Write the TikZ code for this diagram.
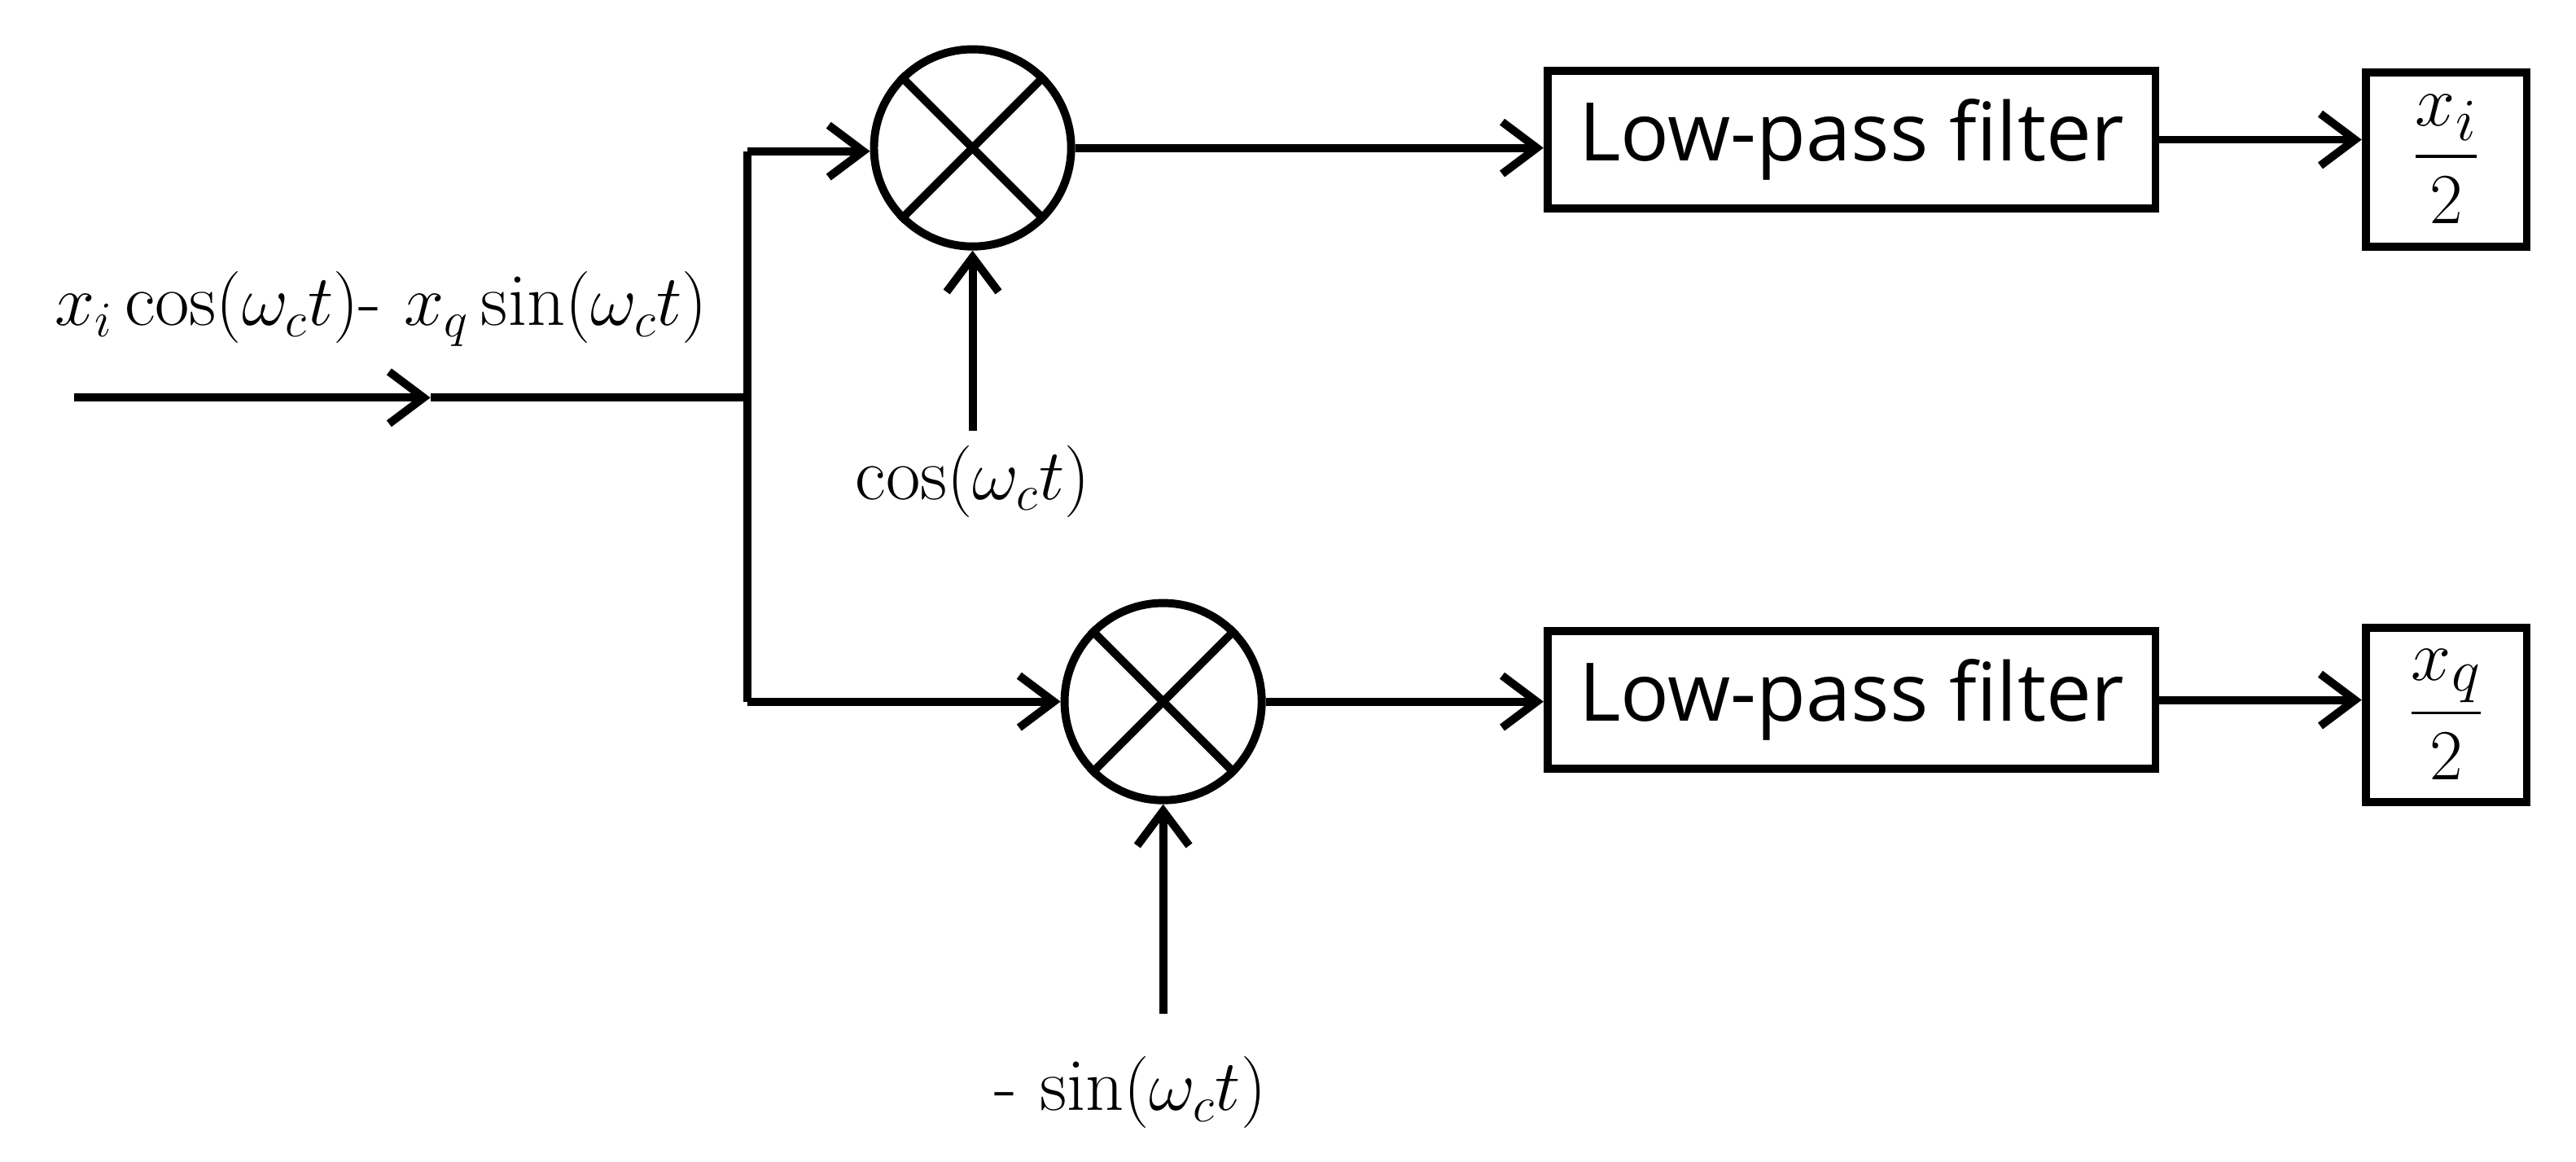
\documentclass[tikz,border=0pt]{standalone}
\usepackage{amsmath}
\usepackage{fontspec}
\setsansfont{Open Sans}
\usetikzlibrary{arrows.meta}
\begin{document}
\begin{tikzpicture}[x=0.02cm,y=-0.02cm,line width=2.8pt,
  arr/.style={-{Straight Barb[length=12pt,width=18pt,line width=2.8pt]}},
  box/.style={draw,font=\sffamily\fontsize{28}{34}\selectfont,minimum width=370*0.02cm,minimum height=84*0.02cm},
  obox/.style={draw,minimum width=98*0.02cm,minimum height=106*0.02cm,font=\fontsize{30}{36}\selectfont},
  lab/.style={font=\fontsize{26}{32}\selectfont}]
\useasboundingbox (0,0) rectangle (1568,707);
\node[circle,draw,minimum size=120*0.02cm,inner sep=0pt] (m1) at (592,90) {};
\node[circle,draw,minimum size=120*0.02cm,inner sep=0pt] (m2) at (708,427) {};
\foreach \m in {m1,m2}{
  \draw (\m.45) -- (\m.225); \draw (\m.135) -- (\m.315);}
\node[box] (l1) at (1127,85) {Low-pass filter};
\node[box] (l2) at (1127,426) {Low-pass filter};
\node[obox] (o1) at (1489,97) {$\dfrac{x_i}{2}$};
\node[obox] (o2) at (1489,435) {$\dfrac{x_q}{2}$};
\coordinate (in) at (45,242);
\coordinate (mid) at (262,242);
\coordinate (j) at (455,242);
\coordinate (jt) at (455,92);
\coordinate (jb) at (455,427);
\coordinate (c1) at (592,262);
\coordinate (c2) at (708,617);
\draw[arr] (in) -- (mid);
\draw (mid) -- (j);
\draw (jt) -- (jb);
\draw[arr] (jt) -- (m1.west |- jt);
\draw[arr] (jb) -- (m2.west);
\draw[arr] (c1) -- (m1.south);
\draw[arr] (c2) -- (m2.south);
\draw[arr] (m1.east) -- (l1.west |- m1.east);
\draw[arr] (m2.east) -- (l2.west |- m2.east);
\draw[arr] (l1.east) -- (o1.west |- l1.east);
\draw[arr] (l2.east) -- (o2.west |- l2.east);
\node[lab] (t1) at (232,188) {$x_i\,\mathrm{cos}(\omega_c t)$- $x_q\,\mathrm{sin}(\omega_c t)$};
\node[lab] (t2) at (592,293) {$\mathrm{cos}(\omega_c t)$};
\node[lab] (t3) at (688,665) {- $\mathrm{sin}(\omega_c t)$};
\end{tikzpicture}
\end{document}
